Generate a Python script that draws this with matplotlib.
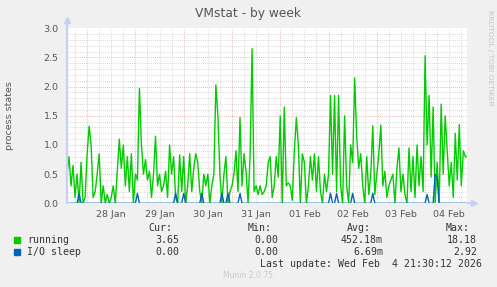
import numpy as np
import matplotlib
matplotlib.use("Agg")
from matplotlib import pyplot as plt
from matplotlib.patches import Rectangle
import matplotlib.dates as mdates


W, H = 497, 287  # розмір картинки в пікселях

START = np.datetime64("2026-01-27T14:00")   # перше значення (погодинно)
X_END = np.datetime64("2026-02-04T20:50")   # права межа графіка

# running, погодинні значення
running = [
    0.5, 0.8, 0.3, 0.65, 0.1, 0.5, 0.0, 0.7, 0.0, 0.1,
    0.85, 1.32, 1.0, 0.1, 0.2, 0.5, 0.85, 0.0, 0.3, 0.0,
    0.15, 0.0, 0.1, 0.3, 0.0, 0.55, 1.1, 0.6, 1.0, 0.3,
    0.8, 0.2, 0.85, 0.0, 0.5, 0.4, 1.97, 1.0, 0.5, 0.75,
    0.4, 0.55, 0.1, 0.5, 1.15, 0.3, 0.5, 0.2, 0.3, 0.55,
    0.1, 1.0, 0.5, 0.8, 0.1, 0.0, 0.83, 0.2, 0.8, 0.0,
    0.3, 0.85, 0.2, 0.6, 0.85, 0.7, 0.2, 0.0, 0.5, 0.3,
    0.5, 0.0, 0.3, 0.5, 2.03, 1.5, 0.5, 0.0, 0.5, 0.8,
    0.0, 0.2, 0.3, 0.5, 0.9, 0.2, 1.47, 0.3, 0.85, 0.55,
    0.0, 0.8, 2.65, 0.2, 0.3, 0.15, 0.3, 0.15, 0.2, 0.3,
    0.7, 0.8, 0.1, 0.3, 0.8, 0.45, 1.5, 0.0, 1.65, 0.3,
    0.35, 0.3, 0.05, 0.9, 1.47, 1.0, 0.0, 0.85, 0.7, 0.0,
    0.3, 0.8, 0.4, 0.85, 0.2, 0.8, 0.2, 0.0, 0.5, 0.2,
    0.5, 1.85, 0.5, 1.85, 0.2, 1.85, 0.3, 0.0, 1.5, 0.3,
    0.0, 1.0, 0.7, 2.15, 1.15, 0.6, 0.85, 0.3, 0.0, 0.8,
    0.15, 0.5, 1.33, 0.15, 0.5, 0.85, 1.34, 0.3, 0.55, 0.1,
    0.3, 0.4, 0.5, 0.0, 0.6, 0.95, 0.2, 0.5, 0.15, 0.0,
    0.95, 0.2, 0.8, 0.1, 1.0, 0.3, 0.8, 0.2, 2.53, 1.0,
    1.85, 0.45, 1.65, 0.0, 0.7, 0.0, 1.7, 0.5, 1.5, 0.9,
    0.3, 0.7, 0.1, 1.2, 0.4, 1.35, 0.3, 0.9, 0.8, 0.8,
]

# I/O sleep: майже завжди 0, тут лише сплески (година від START, значення)
io_hours = [6, 35, 54, 58, 67, 77, 80, 86, 131, 134, 142, 152, 179, 183, 184]
io_values = [0.17, 0.17, 0.17, 0.17, 0.17, 0.17, 0.17, 0.17,
             0.17, 0.17, 0.17, 0.17, 0.15, 0.5, 0.45]

day_labels = ["28 Jan", "29 Jan", "30 Jan", "31 Jan",
              "01 Feb", "02 Feb", "03 Feb", "04 Feb"]

series_names = ["running", "I/O sleep"]
series_colors = ["#00CC00", "#0066B3"]
cur_vals = ["3.65", "0.00"]
min_vals = ["0.00", "0.00"]
avg_vals = ["452.18m", "6.69m"]
max_vals = ["18.18", "2.92"]

GREY_GRID = "#cccccc"
RED_GRID = "#e3a0a0"
AXIS_COL = "#c8cff2"
TEXT_COL = "#555555"


def px(x, y):
    """ Переводить пікселі картинки в координати фігури """
    return x / W, 1 - y / H


def draw_grid(ax, t0, t1):
    """ Малює пунктирну сітку у стилі rrdtool """
    for k in range(1, 30):
        y = k / 10
        col = RED_GRID if k % 5 == 0 else GREY_GRID
        ax.axhline(y, color=col, lw=0.6, ls=(0, (1, 1.5)), zorder=1)
    t = np.datetime64("2026-01-27T18:00")
    while t < t1:
        col = RED_GRID if t.astype("datetime64[h]").astype(int) % 24 == 0 else GREY_GRID
        ax.axvline(mdates.date2num(t), color=col, lw=0.6, ls=(0, (1, 1.5)), zorder=1)
        t = t + np.timedelta64(6, "h")


fig = plt.figure(figsize=(W / 100, H / 100), dpi=100, facecolor="#f0f0f0")
x0, y0 = px(67, 203.3)
ax = fig.add_axes([x0, y0, 400 / W, 175 / H])
ax.set_facecolor("white")

times = START + np.arange(len(running)) * np.timedelta64(1, "h")
t = mdates.date2num(times)
io = np.zeros(len(running))
io[io_hours] = io_values

draw_grid(ax, START, X_END)
ax.plot(t, running, color=series_colors[0], lw=1.0, zorder=3)
ax.plot(t, io, color=series_colors[1], lw=1.0, zorder=4)

ax.set_xlim(mdates.date2num(START), mdates.date2num(X_END))
ax.set_ylim(0, 3.0)

for s in ax.spines.values():
    s.set_visible(False)
# осі зі стрілками
ax.plot([0, 0], [0, 1.04], transform=ax.transAxes, color=AXIS_COL,
        lw=1.6, clip_on=False, zorder=5)
ax.plot([0], [1.045], marker="^", ms=5, color=AXIS_COL, transform=ax.transAxes,
        clip_on=False, zorder=5)
ax.plot([1.0, 1.015], [0, 0], transform=ax.transAxes, color=AXIS_COL,
        lw=1.6, clip_on=False, zorder=5)
ax.plot([1.018], [0], marker=">", ms=5, color=AXIS_COL, transform=ax.transAxes,
        clip_on=False, zorder=5)

noons = np.datetime64("2026-01-28T12:00") + np.arange(len(day_labels)) * np.timedelta64(1, "D")
ax.set_xticks(mdates.date2num(noons))
ax.set_xticklabels(day_labels)
yt = np.arange(0, 3.01, 0.5)
ax.set_yticks(yt)
ax.set_yticklabels([f"{v:.1f}" for v in yt])
ax.tick_params(length=0, labelsize=6.8, labelcolor=TEXT_COL)
ax.tick_params(axis="x", pad=5)
ax.tick_params(axis="y", pad=6)

fig.text(*px(248, 14), "VMstat - by week", ha="center", va="center",
         fontsize=8.8, color=TEXT_COL)
fig.text(*px(10, 116), "process states", ha="center", va="center",
         rotation=90, fontsize=6.8, color=TEXT_COL)
fig.text(*px(490, 58), "RRDTOOL / TOBI OETIKER", ha="center", va="center",
         rotation=270, fontsize=5.4, color="#c4c4c4")

mono = dict(family="DejaVu Sans Mono", fontsize=7.1, color="#333333", va="center")
for x, lab in zip([172, 272, 371, 470], ["Cur:", "Min:", "Avg:", "Max:"]):
    fig.text(*px(x, 228), lab, ha="right", **mono)
for i in range(len(series_names)):
    yy = 240 + 12 * i
    fig.patches.append(Rectangle(px(14, yy + 3), 6 / W, 6 / H,
                                 transform=fig.transFigure,
                                 color=series_colors[i]))
    fig.text(*px(27, yy), series_names[i], ha="left", **mono)
    fig.text(*px(179, yy), cur_vals[i], ha="right", **mono)
    fig.text(*px(278, yy), min_vals[i], ha="right", **mono)
    fig.text(*px(383, yy), avg_vals[i], ha="right", **mono)
    fig.text(*px(477, yy), max_vals[i], ha="right", **mono)
fig.text(*px(482, 264), "Last update: Wed Feb  4 21:30:12 2026", ha="right", **mono)
fig.text(*px(248, 276), "Munin 2.0.75", ha="center", va="center",
         fontsize=5.5, color="#c8c8c8")

fig.savefig("out.png", dpi=100, facecolor=fig.get_facecolor())
